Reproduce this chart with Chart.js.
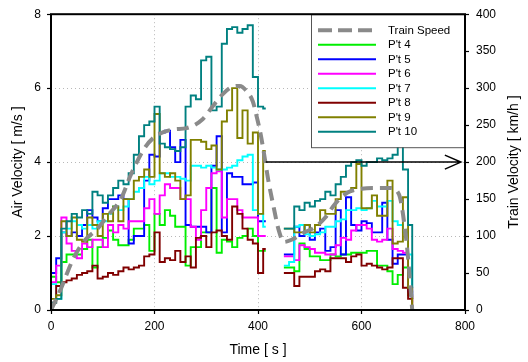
<!DOCTYPE html>
<html>
<head>
<meta charset="utf-8">
<script src="https://cdn.jsdelivr.net/npm/chart.js@4.4.1/dist/chart.umd.min.js"></script>
<style>
  html, body { margin: 0; padding: 0; background: #fff; }
  #wrap { width: 528px; height: 362px; }
</style>
</head>
<body>
<div id="wrap"><canvas id="chart" width="528" height="362"></canvas></div>
<script>
// ── time axis of the two measuring runs (step starts, last entry = end of run) ──
const TIME_1 = [0, 10, 20, 30, 40, 50, 60, 70, 80, 90, 100, 110, 120, 130, 140, 150, 160, 170, 180, 190,
  200, 210, 220, 230, 240, 250, 260, 270, 280, 290, 300, 310, 320, 330, 340, 350, 360, 370, 380, 390,
  400, 410, 415];
const TIME_2 = [450, 460, 470, 480, 490, 500, 510, 520, 530, 540, 550, 560, 570, 580, 590, 600, 610,
  620, 630, 640, 650, 660, 670, 680, 690, 698];

// ── air velocity [m/s], first run ──
const PT4_1 = [0.9, 0.75, 1.3, 1.5, 1.5, 1.5, 1.65, 1.9, 1.15, 1.7, 1.95, 2.15, 1.9, 1.75, 1.75, 1.9, 2.2, 2.2, 2.3, 1.6,
  2.6, 2.3, 2.7, 2.55, 2.25, 2.25, 1.2, 1.7, 1.7, 2.1, 2.1, 3.3, 1.55, 1.9, 1.85, 1.7, 1.95, 2.0, 2.2, 2.0, 1.6, 1.6, 1.6];
const PT5_1 = [1.0, 1.4, 2.1, 2.0, 2.1, 2.0, 2.3, 2.7, 2.5, 2.4, 2.75, 3.0, 3.0, 3.1, 3.0, 1.8, 2.0, 2.0, 3.5, 4.2,
  4.15, 4.8, 4.85, 4.4, 4.0, 4.6, 2.3, 2.25, 2.25, 2.25, 2.1, 3.9, 4.7, 2.1, 3.7, 3.6, 3.6, 3.4, 3.4, 3.45, 2.4, 2.4, 2.4];
const PT6_1 = [0.75, 1.2, 2.5, 1.8, 1.6, 1.4, 1.8, 1.7, 1.9, 1.9, 1.7, 2.3, 2.1, 2.3, 2.2, 2.4, 2.4, 2.4, 2.75, 3.0,
  2.6, 3.1, 3.4, 3.3, 3.3, 3.0, 3.0, 2.25, 1.9, 2.7, 3.3, 3.7, 3.75, 2.5, 3.0, 3.0, 2.7, 2.5, 2.5, 2.5, 2.0, 2.0, 2.0];
const PT7_1 = [0.7, 0.3, 2.1, 2.2, 2.4, 2.3, 2.2, 2.3, 2.2, 2.4, 2.4, 2.6, 2.8, 2.7, 2.8, 3.0, 3.2, 3.3, 3.6, 3.4,
  3.5, 3.7, 3.7, 3.6, 3.6, 3.55, 3.5, 3.9, 3.9, 3.85, 3.9, 3.85, 3.8, 3.8, 3.85, 3.9, 4.05, 4.15, 4.2, 2.7, 2.6, 2.25, 2.25];
const PT8_1 = [0.2, 0.65, 0.75, 0.8, 0.85, 0.95, 1.0, 1.05, 1.2, 0.85, 0.9, 1.0, 0.95, 1.05, 1.15, 1.1, 1.15, 1.2, 1.45, 1.5,
  2.1, 1.3, 1.4, 1.35, 1.6, 1.3, 1.45, 1.15, 1.95, 2.0, 1.7, 2.1, 2.15, 2.0, 1.9, 2.8, 2.6, 2.2, 1.9, 1.8, 1.0, 1.65, 1.65];
const PT9_1 = [0.3, 0.4, 2.4, 2.0, 2.5, 1.9, 1.85, 2.5, 2.3, 2.0, 2.6, 2.4, 2.8, 2.4, 3.0, 3.0, 3.5, 3.6, 3.8, 3.6,
  5.3, 3.7, 3.6, 3.7, 3.5, 3.0, 3.1, 4.6, 4.6, 4.55, 4.35, 4.45, 3.8, 5.1, 5.4, 6.0, 4.65, 5.4, 4.5, 4.8, 2.6, 4.3, 4.3];
const PT10_1 = [0.2, 0.3, 2.2, 2.4, 2.6, 2.5, 2.7, 2.6, 3.2, 3.1, 2.9, 3.1, 3.3, 3.5, 3.4, 3.7, 4.2, 4.7, 5.0, 5.1,
  5.5, 4.5, 4.4, 4.35, 4.3, 4.4, 5.5, 5.8, 5.7, 6.75, 6.85, 5.4, 5.5, 7.2, 7.6, 7.65, 7.5, 7.6, 7.7, 6.3, 5.5, 5.45, 5.45];

// ── air velocity [m/s], second run ──
const PT4_2 = [1.15, 1.15, 1.05, 1.8, 1.65, 1.45, 1.45, 1.35, 1.35, 1.5, 1.45, 1.5, 1.5, 1.55, 1.55, 1.55, 1.6, 1.6, 1.2, 1.2,
  1.05, 0.7, 0.95, 1.15, 0.4, 0.3];
const PT5_2 = [1.5, 1.5, 2.25, 2.0, 2.3, 1.9, 2.1, 2.2, 1.6, 1.7, 2.7, 1.5, 3.05, 2.3, 2.15, 2.4, 2.35, 2.1, 2.1, 2.9,
  1.9, 1.25, 1.5, 1.5, 0.5, 0.3];
const PT6_2 = [1.45, 1.45, 1.35, 1.75, 1.7, 1.65, 1.55, 1.55, 1.5, 1.5, 1.75, 1.95, 1.9, 2.15, 2.3, 2.3, 2.2, 1.9, 1.85, 1.9,
  2.2, 1.65, 1.6, 1.55, 0.6, 0.2];
const PT7_2 = [1.2, 1.3, 2.25, 2.3, 2.05, 2.0, 2.05, 2.1, 2.25, 2.25, 2.4, 2.45, 2.7, 2.7, 2.75, 2.7, 2.75, 2.95, 2.8, 2.8,
  2.95, 2.4, 2.3, 2.1, 1.5, 0.4];
const PT8_2 = [1.0, 1.0, 0.65, 0.9, 0.9, 0.9, 1.05, 1.1, 1.05, 1.4, 1.4, 1.4, 1.3, 1.45, 1.5, 1.2, 1.25, 1.2, 1.15, 1.1,
  1.15, 1.4, 1.4, 0.6, 0.3, 0.0];
const PT9_2 = [2.2, 2.2, 2.1, 2.1, 2.3, 2.1, 2.3, 2.7, 2.6, 2.6, 3.0, 3.2, 3.2, 3.3, 3.95, 2.75, 2.75, 3.1, 2.55, 2.55,
  3.5, 1.8, 1.85, 3.05, 0.6, 0.1];
const PT10_2 = [2.2, 2.2, 2.8, 2.7, 2.9, 2.8, 2.95, 3.0, 3.2, 3.1, 3.4, 3.6, 3.9, 4.0, 4.05, 3.9, 4.0, 4.0, 4.1, 4.05,
  4.1, 4.2, 4.6, 3.8, 2.3, 0.6];

// ── train speed [km/h] ──
const TRAIN_TIME = [0, 20, 30, 45, 65, 90, 110, 135, 155, 180, 200, 235, 262, 293, 313, 332, 351, 365, 378, 390,
  398, 405, 412, 420, 430, 440, 450, 465, 490, 510, 530, 545, 560, 580, 600, 630, 655, 672, 686, 692, 698];
const TRAIN_SPEED = [0, 30, 48, 72, 94, 110, 128, 150, 184, 218, 234, 244, 246, 258, 276, 292, 302, 303, 296, 282,
  260, 238, 210, 175, 140, 108, 92, 95, 105, 112, 125, 140, 152, 161, 164, 165, 165, 157, 98, 54, 0];

// arrow: train speed level read on the right axis
const ARROW_FROM = 415, ARROW_TO = 792, ARROW_LEVEL = 200;

const FONT = 'Liberation Sans, Arial, sans-serif';

function stepSeries(v1, v2) {
  const pts = TIME_1.map((t, i) => ({ x: t, y: v1[i] }));
  pts.push({ x: (TIME_1[TIME_1.length - 1] + TIME_2[0]) / 2, y: null });
  TIME_2.forEach((t, i) => pts.push({ x: t, y: v2[i] }));
  return pts;
}

function airSet(label, color, v1, v2, order) {
  return {
    label, data: stepSeries(v1, v2), yAxisID: 'y', order,
    borderColor: color, backgroundColor: color, borderWidth: 1.9,
    pointRadius: 0, stepped: true, spanGaps: false
  };
}

const trainSet = {
  label: 'Train Speed', yAxisID: 'y1', order: 0,
  data: TRAIN_TIME.map((t, i) => ({ x: t, y: TRAIN_SPEED[i] })),
  borderColor: '#8a8a8a', borderWidth: 4, borderDash: [12, 7],
  pointRadius: 0, tension: 0.4, cubicInterpolationMode: 'monotone'
};

const airSets = [
  airSet("P't 4", '#00ee00', PT4_1, PT4_2, 7),
  airSet("P't 5", '#0000ff', PT5_1, PT5_2, 6),
  airSet("P't 6", '#ff00ff', PT6_1, PT6_2, 5),
  airSet("P't 7", '#00ffff', PT7_1, PT7_2, 4),
  airSet("P't 8", '#800000', PT8_1, PT8_2, 3),
  airSet("P't 9", '#808000', PT9_1, PT9_2, 2),
  airSet("P't 10", '#008080', PT10_1, PT10_2, 1)
];

// frame, arrow, in-plot legend and right axis title
const overlay = {
  id: 'overlay',
  afterDatasetsDraw(chart) {
    const { ctx, chartArea: a, scales } = chart;
    ctx.save();

    const x0 = scales.x.getPixelForValue(ARROW_FROM);
    const x1 = scales.x.getPixelForValue(ARROW_TO);
    const ya = scales.y1.getPixelForValue(ARROW_LEVEL);
    ctx.strokeStyle = '#000';
    ctx.lineWidth = 1.5;
    ctx.beginPath();
    ctx.moveTo(x0, ya); ctx.lineTo(x1, ya);
    ctx.moveTo(x1 - 16, ya - 7); ctx.lineTo(x1, ya); ctx.lineTo(x1 - 16, ya + 7);
    ctx.stroke();

    const bw = 154, bh = 133, bx = a.right - bw, by = a.top;
    ctx.fillStyle = '#fff';
    ctx.fillRect(bx, by, bw, bh);
    ctx.strokeStyle = '#555';
    ctx.lineWidth = 1;
    ctx.strokeRect(bx + 0.5, by + 0.5, bw - 1, bh);

    const items = [trainSet, ...airSets];
    ctx.font = '11.5px ' + FONT;
    ctx.textBaseline = 'middle';
    ctx.fillStyle = '#000';
    items.forEach((ds, i) => {
      const y = by + 16 + i * 14.5;
      ctx.beginPath();
      ctx.strokeStyle = ds.borderColor;
      ctx.lineWidth = ds === trainSet ? 4 : 1.9;
      ctx.setLineDash(ds === trainSet ? [14, 6] : []);
      ctx.moveTo(bx + 7, y); ctx.lineTo(bx + 65, y);
      ctx.stroke();
      ctx.setLineDash([]);
      ctx.fillText(ds.label, bx + 77, y + 0.5);
    });

    ctx.strokeStyle = '#000';
    ctx.lineWidth = 2;
    ctx.strokeRect(a.left, a.top, a.right - a.left, a.bottom - a.top);
    ctx.restore();
  },
  afterDraw(chart) {
    const { ctx, chartArea: a } = chart;
    ctx.save();
    ctx.translate(514, (a.top + a.bottom) / 2);
    ctx.rotate(-Math.PI / 2);
    ctx.font = '14px ' + FONT;
    ctx.fillStyle = '#000';
    ctx.textAlign = 'center';
    ctx.textBaseline = 'middle';
    ctx.fillText('Train Velocity [ km/h ]', 0, 0);
    ctx.restore();
  }
};

const gridOpts = { color: '#b8b8b8', lineWidth: 1, tickLength: 4, tickColor: '#000', tickWidth: 1.2, tickBorderDash: [] };
const tickFont = { family: FONT, size: 12 };

new Chart(document.getElementById('chart'), {
  type: 'line',
  data: { datasets: [trainSet, ...airSets] },
  options: {
    responsive: false, animation: false, devicePixelRatio: 1,
    layout: { padding: { top: 12, left: 0, right: 0, bottom: 0 } },
    plugins: { legend: { display: false }, tooltip: { enabled: false } },
    scales: {
      x: {
        type: 'linear', min: 0, max: 800,
        ticks: { stepSize: 200, color: '#000', font: tickFont, padding: 5, maxRotation: 0 },
        grid: gridOpts, border: { display: false, dash: [1, 3] },
        title: { display: true, text: 'Time [ s ]', color: '#000', font: { family: FONT, size: 14 }, padding: { top: 0, bottom: 3 } },
        afterFit: s => { s.height = 52; }
      },
      y: {
        position: 'left', min: 0, max: 8,
        ticks: { stepSize: 2, color: '#000', font: tickFont, padding: 6 },
        grid: gridOpts, border: { display: false, dash: [1, 3] },
        title: { display: true, text: 'Air Velocity [ m/s ]', color: '#000', font: { family: FONT, size: 14 }, padding: { top: 10, bottom: 0 } },
        afterFit: s => { s.width = 51; }
      },
      y1: {
        position: 'right', min: 0, max: 400,
        ticks: { stepSize: 50, color: '#000', font: tickFont, padding: 7 },
        grid: { ...gridOpts, drawOnChartArea: false }, border: { display: false },
        afterFit: s => { s.width = 63; }
      }
    }
  },
  plugins: [overlay]
});
</script>
</body>
</html>
